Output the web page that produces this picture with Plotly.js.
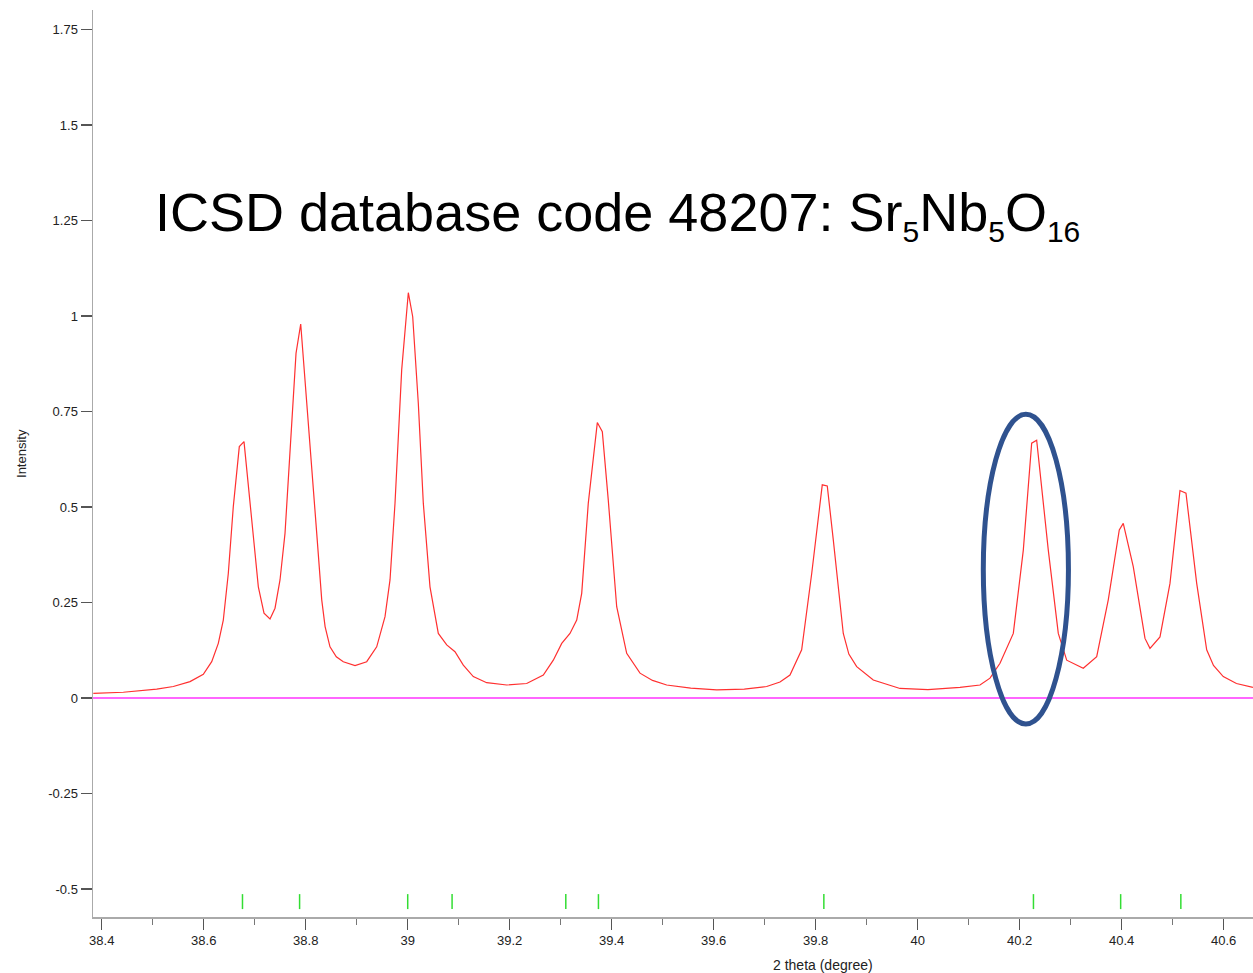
<!DOCTYPE html>
<html>
<head>
<meta charset="utf-8">
<script src="https://cdn.plot.ly/plotly-3.0.1.min.js"></script>
<style>html,body{margin:0;padding:0;background:#fff;}#chart{width:1253px;height:973px;}</style>
</head>
<body>
<div id="chart"></div>
<script>
// Calculated pattern (2 theta in degrees, intensity)
const twoTheta = [38.3835,38.4424,38.5078,38.5404,38.5731,38.5992,38.6157,38.6286,38.6384,38.6482,38.6580,38.6698,38.6790,38.6875,38.6973,38.7071,38.7182,38.7300,38.7398,38.7496,38.7594,38.7692,38.7810,38.7902,38.8020,38.8118,38.8216,38.8314,38.8380,38.8476,38.8600,38.8737,38.8967,38.9196,38.9392,38.9555,38.9653,38.9751,38.9882,39.0012,39.0098,39.0208,39.0306,39.0437,39.0600,39.0765,39.0927,39.1090,39.1286,39.1549,39.1941,39.2333,39.2659,39.2855,39.3020,39.3182,39.3314,39.3412,39.3541,39.3718,39.3816,39.3933,39.4098,39.4294,39.4555,39.4800,39.5078,39.5550,39.6059,39.6600,39.7039,39.7300,39.7496,39.7725,39.7922,39.8129,39.8227,39.8345,39.8541,39.8650,39.8804,39.9129,39.9653,40.0200,40.0829,40.1222,40.1418,40.1614,40.1875,40.2071,40.2235,40.2333,40.2561,40.2757,40.2922,40.3247,40.3510,40.3737,40.3953,40.4031,40.4227,40.4457,40.4555,40.4751,40.4947,40.5143,40.5261,40.5471,40.5667,40.5800,40.5992,40.6250,40.6574];
const intensity = [0.012,0.015,0.023,0.030,0.043,0.062,0.095,0.143,0.204,0.326,0.501,0.658,0.671,0.553,0.414,0.291,0.222,0.207,0.235,0.309,0.431,0.649,0.902,0.979,0.780,0.606,0.431,0.257,0.187,0.134,0.108,0.095,0.085,0.095,0.134,0.213,0.309,0.510,0.859,1.061,0.998,0.771,0.510,0.291,0.169,0.139,0.121,0.086,0.056,0.040,0.034,0.038,0.060,0.099,0.143,0.169,0.204,0.274,0.510,0.721,0.697,0.518,0.239,0.117,0.065,0.046,0.034,0.026,0.021,0.023,0.030,0.042,0.060,0.126,0.326,0.558,0.555,0.414,0.169,0.115,0.082,0.047,0.025,0.022,0.028,0.034,0.052,0.091,0.169,0.387,0.667,0.675,0.387,0.169,0.099,0.078,0.108,0.257,0.440,0.457,0.344,0.156,0.130,0.160,0.300,0.543,0.536,0.300,0.126,0.085,0.056,0.038,0.028];

// Difference curve
const diffX = [38.3829, 40.6575];
const diffY = [0, 0];

// Bragg reflection positions
const braggPos = [38.676, 38.788, 39.000, 39.087, 39.310, 39.374, 39.816, 40.227, 40.398, 40.516];
const braggLevel = [-0.533,-0.533,-0.533,-0.533,-0.533,-0.533,-0.533,-0.533,-0.533,-0.533];

// Tick labels
const xTickVals = [38.4,38.6,38.8,39,39.2,39.4,39.6,39.8,40,40.2,40.4,40.6];
const xTickText = ["38.4","38.6","38.8","39","39.2","39.4","39.6","39.8","40","40.2","40.4","40.6"];
const yTickVals = [-0.5,-0.25,0,0.25,0.5,0.75,1,1.25,1.5,1.75];
const yTickText = ["-0.5","-0.25","0","0.25","0.5","0.75","1","1.25","1.5","1.75"];

const FONT = "Liberation Sans, Arial, Helvetica, sans-serif";
const SUB = (t) => '<sub><span style="font-size:30px">' + t + '</span></sub>';

const traces = [
  {x: diffX, y: diffY, type: 'scatter', mode: 'lines',
   line: {color: '#ff33ff', width: 1.6}, hoverinfo: 'skip', showlegend: false},
  {x: twoTheta, y: intensity, type: 'scatter', mode: 'lines',
   line: {color: '#ff3030', width: 1.2}, showlegend: false},
  {x: braggPos, y: braggLevel, type: 'scatter', mode: 'markers',
   marker: {symbol: 'line-ns', size: 10.7, color: '#33dd33', line: {color: '#33dd33', width: 1.5}},
   showlegend: false}
];

const layout = {
  width: 1253, height: 973,
  margin: {l: 93, r: 0, t: 10, b: 56, pad: 0},
  paper_bgcolor: '#ffffff', plot_bgcolor: '#ffffff',
  font: {family: FONT, size: 13, color: '#222'},
  showlegend: false,
  xaxis: {
    range: [38.3829, 40.6575], autorange: false,
    tickmode: 'array', tickvals: xTickVals, ticktext: xTickText,
    ticks: 'outside', ticklen: 11, tickwidth: 1.2, tickcolor: '#555',
    minor: {tickmode: 'linear', tick0: 38.4, dtick: 0.1, ticks: 'outside', ticklen: 6, tickwidth: 1.2, tickcolor: '#777', showgrid: false},
    showline: true, linecolor: '#aaaaaa', linewidth: 1.5,
    showgrid: false, zeroline: false, automargin: false,
    tickfont: {family: FONT, size: 13, color: '#222'}
  },
  yaxis: {
    range: [-0.5733, 1.801], autorange: false,
    tickmode: 'array', tickvals: yTickVals, ticktext: yTickText,
    ticks: 'outside', ticklen: 11, tickwidth: 1.2, tickcolor: '#555',
    showline: true, linecolor: '#aaaaaa', linewidth: 1.5,
    showgrid: false, zeroline: false, automargin: false,
    tickfont: {family: FONT, size: 13, color: '#222'}
  },
  annotations: [
    {xref: 'paper', yref: 'paper', x: 0.0515, y: 0.8128, xanchor: 'left', yanchor: 'top',
     text: 'ICSD database code 48207: Sr' + SUB('5') + 'Nb' + SUB('5') + 'O' + SUB('16'),
     showarrow: false, font: {family: FONT, size: 54, color: '#000'}},
    {xref: 'paper', yref: 'paper', x: -0.0612, y: 0.5105, xanchor: 'center', yanchor: 'middle',
     text: 'Intensity', textangle: -90, showarrow: false,
     font: {family: FONT, size: 13, color: '#222'}},
    {xref: 'paper', yref: 'paper', x: 0.6293, y: -0.0529, xanchor: 'center', yanchor: 'middle',
     text: '2 theta (degree)', showarrow: false,
     font: {family: FONT, size: 14, color: '#222'}}
  ],
  shapes: [
    {type: 'circle', xref: 'paper', yref: 'paper', x0: 0.7675, x1: 0.8409, y0: 0.2128, y1: 0.5542,
     line: {color: '#2f528f', width: 5}, fillcolor: 'rgba(0,0,0,0)'}
  ]
};

Plotly.newPlot('chart', traces, layout, {staticPlot: true, displayModeBar: false});
</script>
</body>
</html>
